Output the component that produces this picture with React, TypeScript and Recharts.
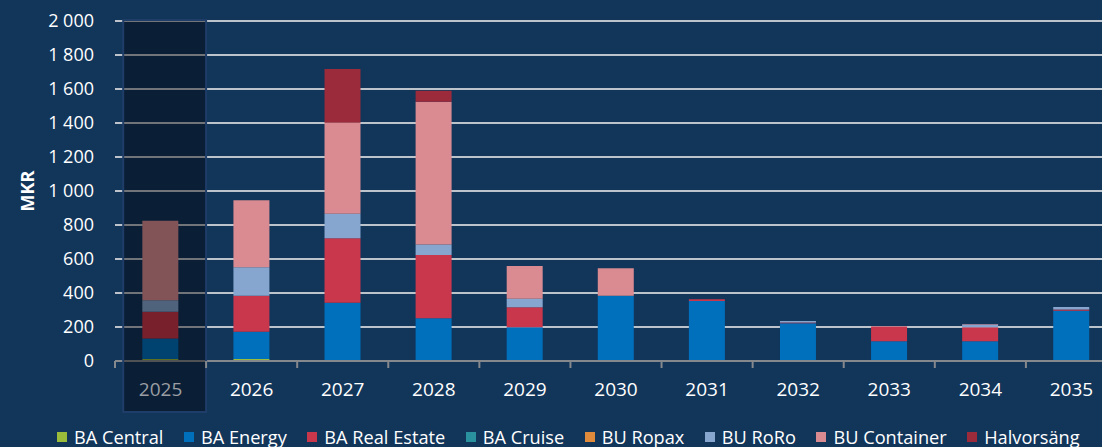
import { Bar, BarChart, CartesianGrid, Legend, ReferenceArea, XAxis, YAxis } from "recharts";

const BG = "#12355a";
const GRID = "#bcc3ca";
const AXIS_GREY = "#85888c";

const YEARS = ["2025", "2026", "2027", "2028", "2029", "2030", "2031", "2032", "2033", "2034", "2035"];
const BA_CENTRAL = [12, 12, 0, 0, 0, 0, 0, 0, 0, 0, 0];
const BA_ENERGY = [121, 160, 343, 251, 198, 384, 353, 222, 116, 116, 295];
const BA_REAL_ESTATE = [157, 212, 379, 373, 118, 0, 10, 5, 87, 83, 8];
const BA_CRUISE = [0, 0, 0, 0, 0, 0, 0, 0, 0, 0, 0];
const BU_ROPAX = [0, 0, 0, 0, 0, 0, 0, 0, 0, 0, 0];
const BU_RORO = [67, 167, 144, 62, 50, 0, 0, 8, 0, 16, 15];
const BU_CONTAINER = [468, 394, 536, 839, 193, 161, 0, 0, 0, 2, 0];
const HALVORSANG = [0, 0, 316, 65, 0, 0, 0, 0, 0, 0, 0];
const Y_TICKS = [0, 200, 400, 600, 800, 1000, 1200, 1400, 1600, 1800, 2000];
const HIGHLIGHT_YEAR = "2025";

const SERIES = [
  { key: "central", name: "BA Central", values: BA_CENTRAL, color: "#9bbb3a" },
  { key: "energy", name: "BA Energy", values: BA_ENERGY, color: "#0070bd" },
  { key: "realEstate", name: "BA Real Estate", values: BA_REAL_ESTATE, color: "#c9374c" },
  { key: "cruise", name: "BA Cruise", values: BA_CRUISE, color: "#2a919e" },
  { key: "ropax", name: "BU Ropax", values: BU_ROPAX, color: "#e08a3c" },
  { key: "roro", name: "BU RoRo", values: BU_RORO, color: "#86a6cf" },
  { key: "container", name: "BU Container", values: BU_CONTAINER, color: "#d98b91" },
  { key: "halvorsang", name: "Halvorsäng", values: HALVORSANG, color: "#9b2a3b" },
];

const rows = YEARS.map((year, i) => {
  const row: Record<string, string | number> = { year };
  SERIES.forEach((s) => (row[s.key] = s.values[i]));
  return row;
});

const fmt = (v: number) => String(v).replace(/\B(?=(\d{3})+(?!\d))/g, " ");

function YearTick(props: any) {
  const { x, y, payload } = props;
  const half = payload?.offset ?? 0;
  const dim = payload.value === HIGHLIGHT_YEAR;
  return (
    <g>
      <line x1={x - half} x2={x - half} y1={y} y2={y + 7} stroke={AXIS_GREY} strokeWidth={2} />
      <text x={x} y={y + 35} textAnchor="middle" fill={dim ? "#9a9da2" : "#ffffff"} fontSize={19}>
        {payload.value}
      </text>
    </g>
  );
}

function MkrLabel(props: any) {
  const vb = props.viewBox || { x: 0, y: 0, height: 0 };
  const cx = vb.x + 27;
  const cy = vb.y + vb.height / 2;
  return (
    <text
      x={cx}
      y={cy}
      transform={`rotate(-90 ${cx} ${cy})`}
      textAnchor="middle"
      dominantBaseline="central"
      fill="#ffffff"
      fontSize={18}
      fontWeight={700}
    >
      MKR
    </text>
  );
}

function LegendRow(props: any) {
  const given = props.payload || [];
  const items = SERIES.map((s) => given.find((it: any) => it.value === s.name) || { value: s.name, color: s.color });
  return (
    <div
      style={{
        display: "flex",
        gap: 20.5,
        paddingLeft: 57,
        paddingTop: 6,
        height: 26,
        boxSizing: "border-box",
        lineHeight: "18px",
        fontSize: 18.2,
        color: "#ffffff",
        whiteSpace: "nowrap",
      }}
    >
      {items.map((it: any) => (
        <span key={it.value} style={{ display: "flex", alignItems: "center" }}>
          <span style={{ width: 10, height: 10, background: it.color, marginRight: 7, display: "inline-block" }} />
          {it.value}
        </span>
      ))}
    </div>
  );
}

function Highlight(props: any) {
  const { x, y, width, height } = props;
  const inset = width * 0.09;
  return (
    <rect
      x={x + inset}
      y={y}
      width={width - inset}
      height={height}
      fill="#000000"
      fillOpacity={0.4}
      stroke="#1f3d69"
      strokeWidth={2}
    />
  );
}

export default function App() {
  return (
    <div
      style={{
        position: "fixed",
        left: 0,
        top: 0,
        width: 1102,
        height: 447,
        overflow: "hidden",
        background: BG,
        fontFamily: "'Open Sans', sans-serif",
      }}
    >
      <BarChart
        width={1140}
        height={447}
        data={rows}
        barCategoryGap="30%"
        margin={{ top: 21, right: 23, left: 0, bottom: 0 }}
      >
        <CartesianGrid stroke={GRID} strokeWidth={2} vertical={false} />
        <XAxis
          dataKey="year"
          height={60}
          tickSize={0}
          tickMargin={0}
          tickLine={false}
          axisLine={{ stroke: AXIS_GREY, strokeWidth: 2 }}
          tick={<YearTick />}
          interval={0}
        />
        <YAxis
          domain={[0, 2000]}
          ticks={Y_TICKS}
          width={115}
          tick={{ fill: "#ffffff", fontSize: 18 }}
          tickFormatter={fmt}
          tickMargin={15}
          tickLine={false}
          axisLine={false}
          label={<MkrLabel />}
        />
        <Legend verticalAlign="bottom" content={<LegendRow />} />
        {SERIES.map((s) => (
          <Bar
            key={s.key}
            dataKey={s.key}
            name={s.name}
            stackId="a"
            fill={s.color}
            legendType="square"
            isAnimationActive={false}
          />
        ))}
        <ReferenceArea
          x1={HIGHLIGHT_YEAR}
          x2={HIGHLIGHT_YEAR}
          y1={-300}
          y2={2006}
          ifOverflow="visible"
          shape={<Highlight />}
          zIndex={1500}
        />
      </BarChart>
    </div>
  );
}
